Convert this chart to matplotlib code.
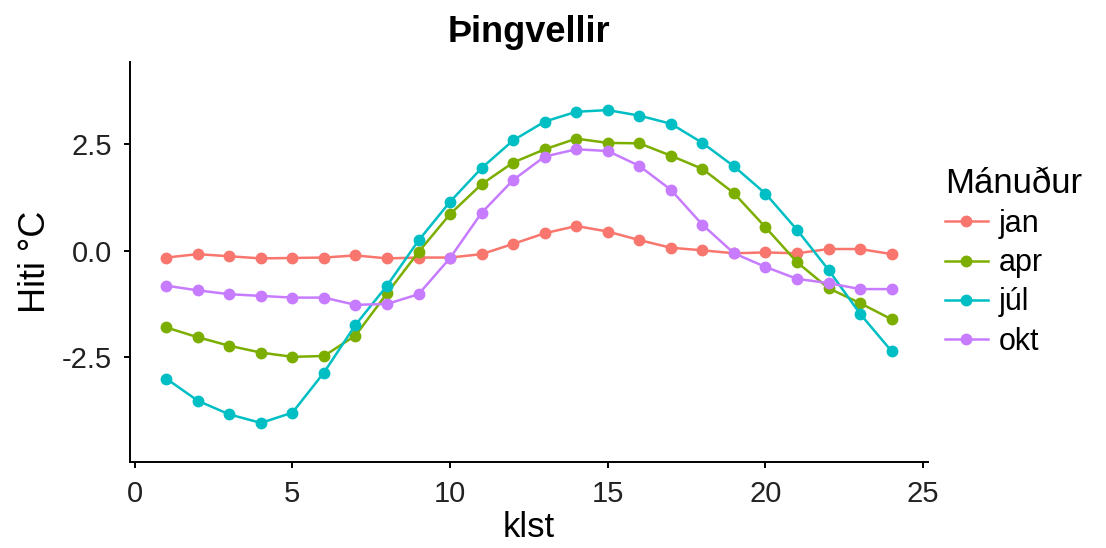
import numpy as np
import matplotlib
matplotlib.use("Agg")
import matplotlib.pyplot as plt

plt.rcParams['font.family'] = ['Liberation Sans', 'DejaVu Sans']

# hourly temps, Þingvellir
klst = list(range(1, 25))
months = ['jan', 'apr', 'júl', 'okt']
colors = ['#F8766D', '#7CAE00', '#00BFC4', '#C77CFF']

jan = [-0.16, -0.08, -0.13, -0.18, -0.17, -0.16, -0.11, -0.18, -0.16, -0.16, -0.08, 0.16,
       0.41, 0.58, 0.45, 0.25, 0.07, 0.01, -0.06, -0.04, -0.06, 0.04, 0.04, -0.08]
apr = [-1.80, -2.03, -2.23, -2.39, -2.49, -2.47, -1.99, -1.00, -0.03, 0.86, 1.56, 2.07,
       2.38, 2.63, 2.53, 2.52, 2.23, 1.92, 1.35, 0.55, -0.27, -0.88, -1.23, -1.61]
jul = [-3.00, -3.52, -3.84, -4.04, -3.80, -2.86, -1.74, -0.82, 0.24, 1.15, 1.94, 2.59,
       3.03, 3.26, 3.30, 3.17, 2.98, 2.53, 1.98, 1.34, 0.49, -0.45, -1.48, -2.36]
okt = [-0.82, -0.93, -1.02, -1.06, -1.10, -1.10, -1.27, -1.25, -1.02, -0.17, 0.89, 1.66,
       2.21, 2.38, 2.34, 1.99, 1.43, 0.61, -0.06, -0.38, -0.66, -0.76, -0.90, -0.90]
series = [jan, apr, jul, okt]

fig = plt.figure(figsize=(11.06, 5.48), dpi=100)
ax = fig.add_axes([0.1175, 0.1575, 0.7215, 0.7295])

for name, vals, c in zip(months, series, colors):
    ax.plot(klst, vals, color=c, lw=1.8, marker='o', ms=7.5, label=name)

ax.set_xlim(-0.15, 25.15)
ax.set_ylim(-4.95, 4.43)
ax.set_xticks([0, 5, 10, 15, 20, 25])
ax.set_yticks([-2.5, 0.0, 2.5])
ax.set_yticklabels(['-2.5', '0.0', '2.5'])

for s in ['top', 'right']:
    ax.spines[s].set_visible(False)
for s in ['left', 'bottom']:
    ax.spines[s].set_linewidth(1.4)
ax.tick_params(labelsize=21, length=4.5, width=1.4, pad=8.5, colors='black', labelcolor='#222222')

ax.set_xlabel('klst', fontsize=25, labelpad=2)
ax.set_ylabel('Hiti °C', fontsize=26, labelpad=6)
ax.set_title('Þingvellir', fontsize=26, fontweight='bold', pad=14)

leg = fig.legend(handles=ax.get_lines(), title='Mánuður', loc='upper left',
                 bbox_to_anchor=(945 / 1106, 1 - 167 / 548),
                 frameon=False, fontsize=22, title_fontsize=25, handlelength=1.4,
                 handletextpad=0.35, labelspacing=0.3, borderpad=0, borderaxespad=0,
                 alignment='left')

fig.savefig('out.png', dpi=100)
